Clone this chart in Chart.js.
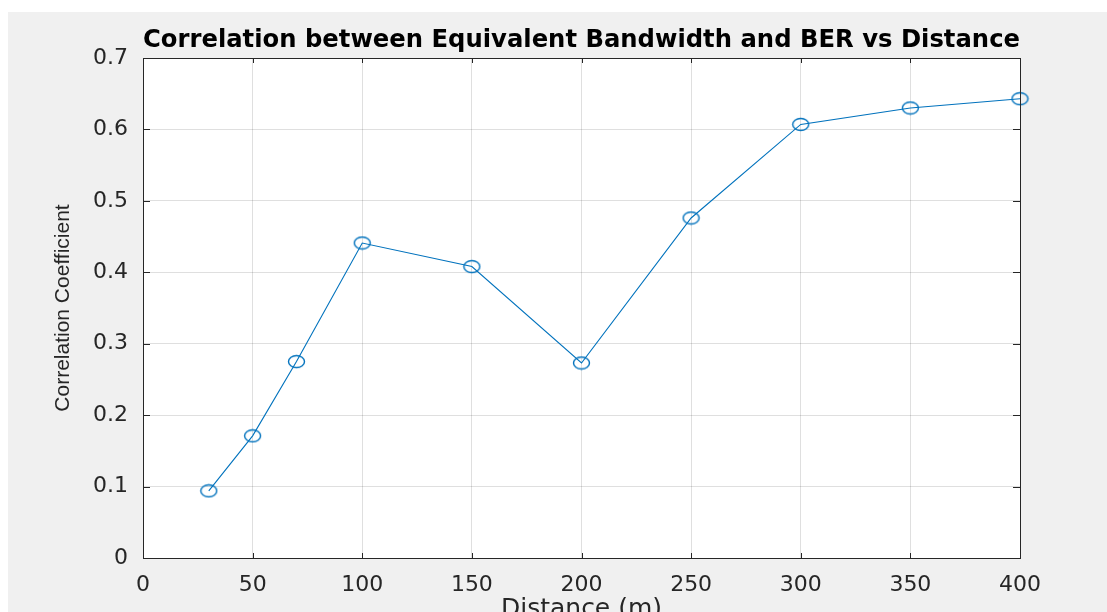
<!DOCTYPE html>
<html>
<head>
<meta charset="utf-8">
<script src="https://cdn.jsdelivr.net/npm/chart.js@4/dist/chart.umd.min.js"></script>
<style>
  html, body { margin: 0; padding: 0; background: #ffffff; width: 1107px; height: 612px; overflow: hidden; }
  #figure { position: absolute; left: 8px; top: 12px; width: 1099px; height: 600px; background: #f0f0f0; }
  #chart { display: block; }
</style>
</head>
<body>
<div id="figure"><canvas id="chart" width="1099" height="600"></canvas></div>
<script>
// Distance (m) and the correlation coefficient measured at each distance
const distance = [30, 50, 70, 100, 150, 200, 250, 300, 350, 400];
const correlation = [0.094, 0.171, 0.275, 0.441, 0.408, 0.273, 0.476, 0.607, 0.630, 0.643];

// Axis ticks
const xTicks = [0, 50, 100, 150, 200, 250, 300, 350, 400];
const yTicks = [0, 0.1, 0.2, 0.3, 0.4, 0.5, 0.6, 0.7];

const lineBlue = '#0072BD';
const axisColor = '#262626';
const gridColor = 'rgba(38,38,38,0.15)';

// Open elliptical marker
function makeMarker() {
  const c = document.createElement('canvas');
  c.width = 19; c.height = 15;
  const g = c.getContext('2d');
  g.strokeStyle = lineBlue;
  g.lineWidth = 1.4;
  g.beginPath();
  g.ellipse(9.5, 7.5, 8, 6, 0, 0, Math.PI * 2);
  g.stroke();
  return c;
}

// White plotting area, box outline and inward tick marks on every side
const axesBox = {
  id: 'axesBox',
  beforeDraw(chart) {
    const { ctx, chartArea: a } = chart;
    ctx.save();
    ctx.fillStyle = '#ffffff';
    ctx.fillRect(a.left, a.top, a.right - a.left, a.bottom - a.top);
    ctx.restore();
  },
  afterDatasetsDraw(chart) {
    const { ctx, chartArea: a, scales } = chart;
    ctx.save();
    ctx.strokeStyle = axisColor;
    ctx.lineWidth = 1;
    ctx.beginPath();
    scales.x.ticks.forEach(t => {
      const px = Math.round(scales.x.getPixelForValue(t.value)) + 0.5;
      ctx.moveTo(px, a.bottom); ctx.lineTo(px, a.bottom - 5);
      ctx.moveTo(px, a.top); ctx.lineTo(px, a.top + 5);
    });
    scales.y.ticks.forEach(t => {
      const py = Math.round(scales.y.getPixelForValue(t.value)) + 0.5;
      ctx.moveTo(a.left, py); ctx.lineTo(a.left + 7, py);
      ctx.moveTo(a.right, py); ctx.lineTo(a.right - 7, py);
    });
    ctx.stroke();
    ctx.strokeRect(Math.round(a.left) + 0.5, Math.round(a.top) + 0.5,
                   Math.round(a.right - a.left), Math.round(a.bottom - a.top));
    ctx.restore();
  }
};

new Chart(document.getElementById('chart'), {
  type: 'line',
  data: {
    datasets: [{
      data: distance.map((d, i) => ({ x: d, y: correlation[i] })),
      borderColor: lineBlue,
      borderWidth: 1.1,
      tension: 0,
      fill: false,
      clip: false,
      pointStyle: makeMarker(),
      pointRadius: 8,
      pointHoverRadius: 8
    }]
  },
  options: {
    responsive: false,
    animation: false,
    events: [],
    layout: { padding: { left: 0, top: 0, right: 87, bottom: 0 } },
    plugins: {
      legend: { display: false },
      tooltip: { enabled: false },
      title: {
        display: true,
        fullSize: false,
        text: 'Correlation between Equivalent Bandwidth and BER vs Distance',
        color: '#000000',
        font: { family: 'DejaVu Sans', size: 25, weight: 'bold', lineHeight: 1.2 },
        padding: { top: 13.5, bottom: 2.5 }
      }
    },
    scales: {
      x: {
        type: 'linear',
        min: 0,
        max: 400,
        afterBuildTicks(scale) { scale.ticks = xTicks.map(v => ({ value: v })); },
        afterFit(scale) { scale.height = 54; },
        ticks: {
          color: axisColor,
          font: { family: 'DejaVu Sans', size: 22 },
          padding: 14,
          maxRotation: 0,
          autoSkip: false,
          callback: v => String(v)
        },
        grid: { color: gridColor, drawTicks: false },
        border: { display: false },
        title: {
          display: true,
          text: 'Distance (m)',
          color: axisColor,
          font: { family: 'DejaVu Sans', size: 25, lineHeight: 1 },
          padding: { top: 0, bottom: -10 }
        }
      },
      y: {
        type: 'linear',
        min: 0,
        max: 0.7,
        afterBuildTicks(scale) { scale.ticks = yTicks.map(v => ({ value: v })); },
        afterFit(scale) { scale.width = 135; },
        ticks: {
          color: axisColor,
          font: { family: 'DejaVu Sans', size: 22 },
          padding: 15,
          autoSkip: false,
          callback: v => String(Math.round(v * 10) / 10)
        },
        grid: { color: gridColor, drawTicks: false },
        border: { display: false },
        title: {
          display: true,
          text: 'Correlation Coefficient',
          color: axisColor,
          font: { family: 'Liberation Sans', size: 21, lineHeight: 1.2 },
          padding: { top: 43, bottom: 0 }
        }
      }
    }
  },
  plugins: [axesBox]
});
</script>
</body>
</html>
